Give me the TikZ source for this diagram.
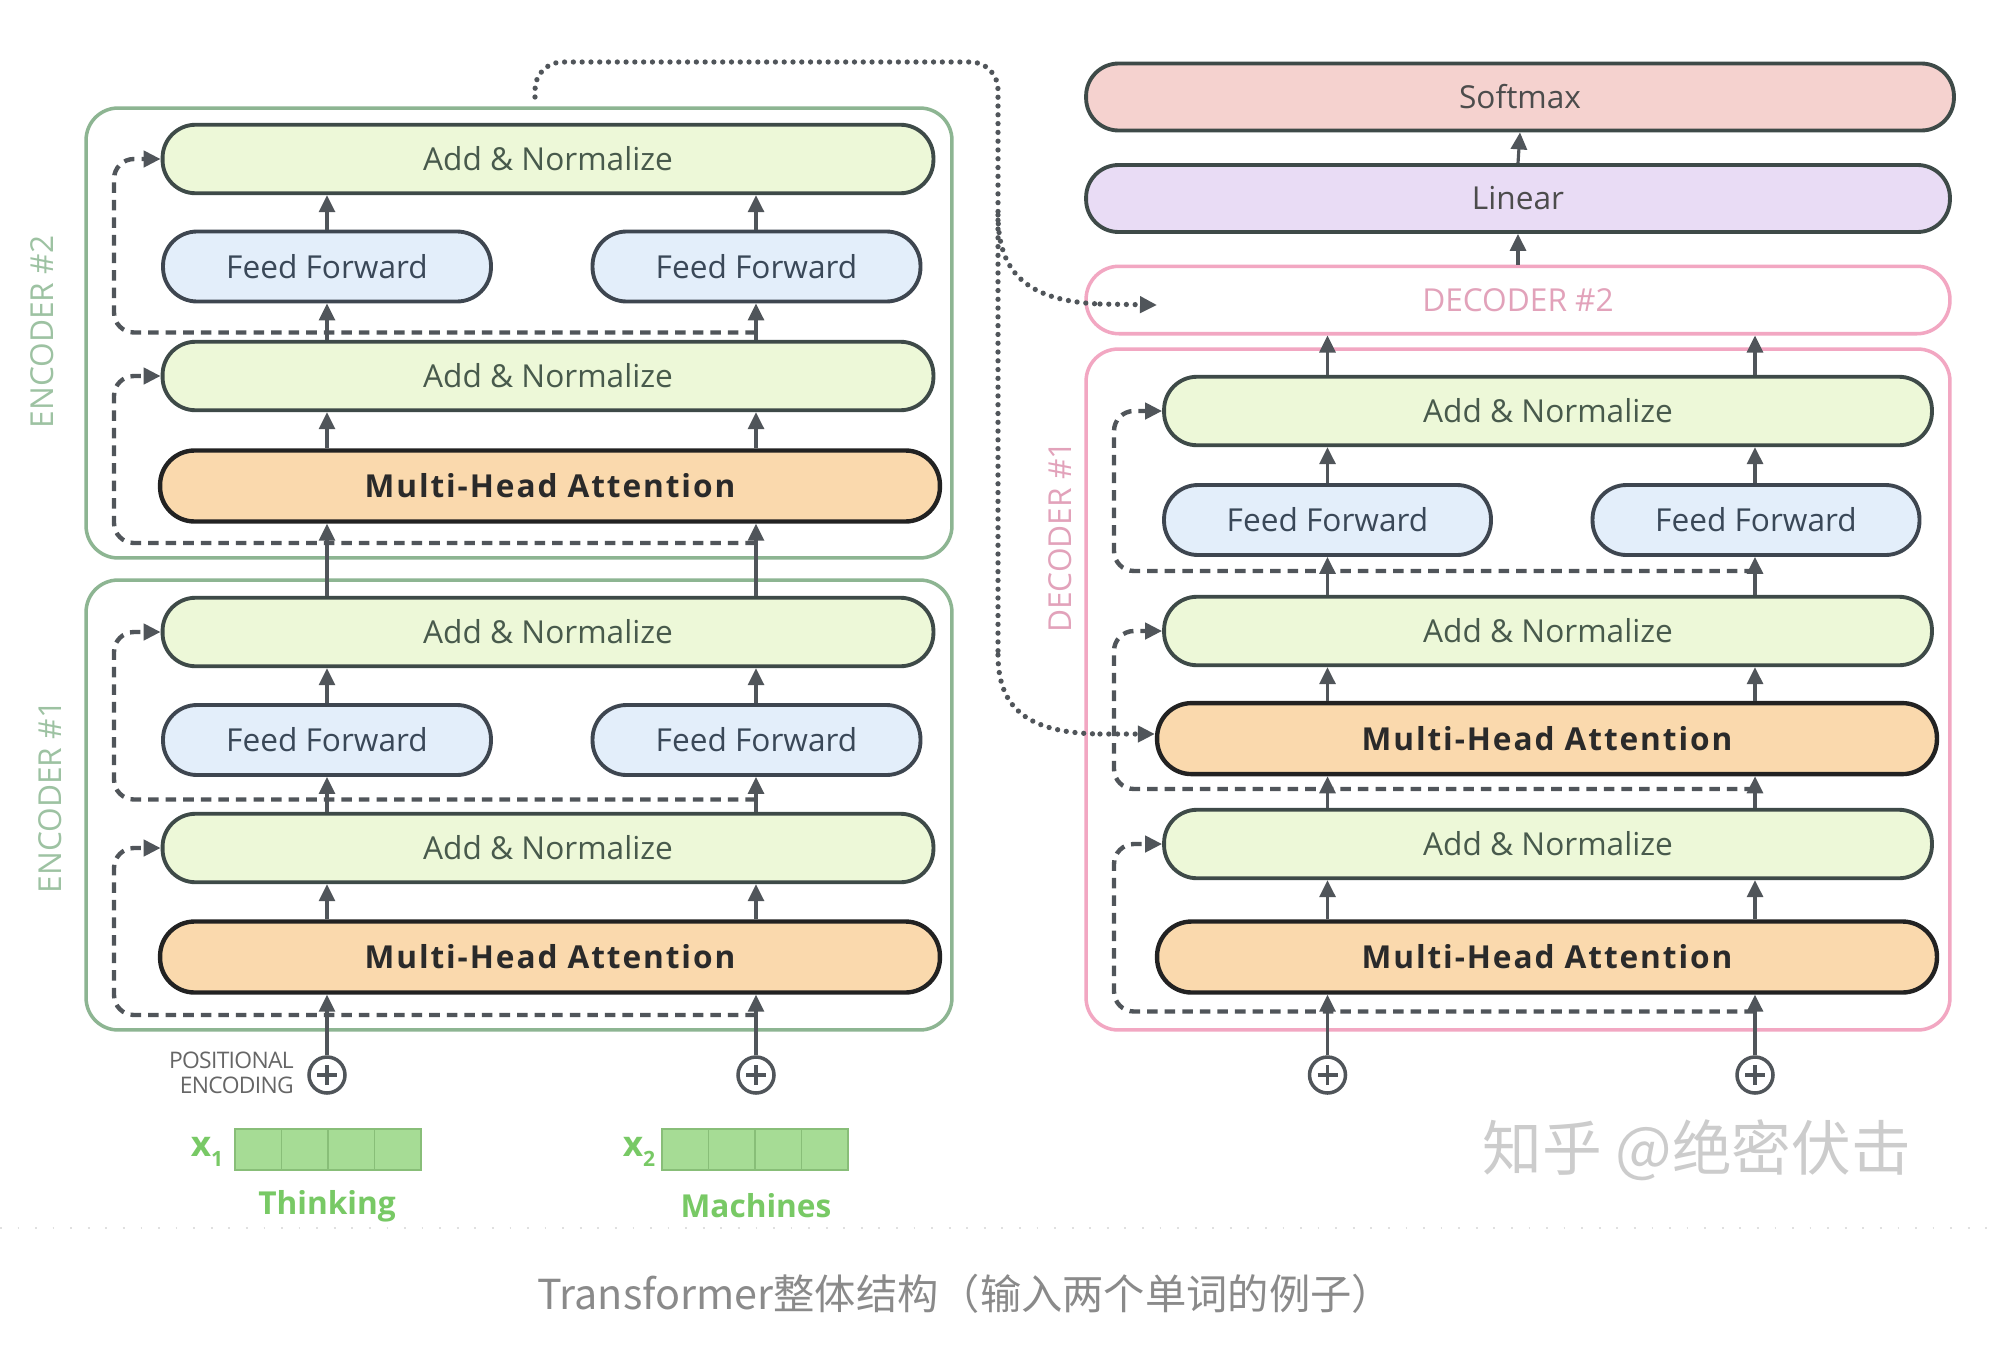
\documentclass[tikz,border=0pt]{standalone}
\usepackage{fontspec}
\setmainfont{Open Sans}
\newfontfamily\cjkfont{Noto Sans CJK SC}
\usetikzlibrary{arrows.meta}
\definecolor{anfill}{HTML}{EDF8D8}
\definecolor{anborder}{HTML}{3E4A48}
\definecolor{antext}{HTML}{485A4C}
\definecolor{fffill}{HTML}{E3EEFA}
\definecolor{ffborder}{HTML}{3E4650}
\definecolor{fftext}{HTML}{3A4858}
\definecolor{mhafill}{HTML}{FAD9AD}
\definecolor{mhaborder}{HTML}{222222}
\definecolor{mhatext}{HTML}{2A2A2A}
\definecolor{smfill}{HTML}{F5D2CF}
\definecolor{linfill}{HTML}{E9DCF5}
\definecolor{encborder}{HTML}{8DB592}
\definecolor{enclabel}{HTML}{9DC2A2}
\definecolor{decborder}{HTML}{F2A7C2}
\definecolor{declabel}{HTML}{E2A2BA}
\definecolor{arrgray}{HTML}{50555A}
\definecolor{vecfill}{HTML}{A6DC95}
\definecolor{vecborder}{HTML}{88BE78}
\definecolor{wordgreen}{HTML}{78C965}
\definecolor{capgray}{HTML}{8A8A8A}
\tikzset{
  x=0.02cm, y=-0.02cm,
  blk/.style={rectangle, inner sep=0pt, line width=2.2pt},
  addnorm/.style={blk, fill=anfill, draw=anborder, text=antext, rounded corners=0.66cm,
    minimum width=15.42cm, minimum height=1.37cm, font=\fontsize{18}{22}\selectfont},
  ffbox/.style={blk, fill=fffill, draw=ffborder, text=fftext, rounded corners=0.68cm,
    minimum width=6.56cm, minimum height=1.4cm, font=\fontsize{18}{22}\selectfont},
  mhabox/.style={blk, fill=mhafill, draw=mhaborder, text=mhatext, line width=2.5pt, rounded corners=0.69cm,
    minimum width=15.6cm, minimum height=1.42cm,
    font=\fontsize{18}{22}\selectfont\bfseries\addfontfeature{LetterSpace=6}},
  topbox/.style={blk, draw=anborder, rounded corners=0.65cm, minimum height=1.34cm,
    font=\fontsize{18}{22}\selectfont, text=black!70},
  encbox/.style={rectangle, draw=encborder, line width=2pt, rounded corners=0.64cm,
    minimum width=17.32cm, minimum height=9cm, inner sep=0pt},
  decbox/.style={rectangle, draw=decborder, line width=2pt, rounded corners=0.64cm, inner sep=0pt},
  enclab/.style={rotate=90, text=enclabel, font=\fontsize{18}{22}\selectfont},
  declab/.style={rotate=90, text=declabel, font=\fontsize{18}{22}\selectfont},
  arr/.style={draw=arrgray, line width=1.8pt, -{Triangle[length=0.34cm, width=0.32cm]}},
  res/.style={draw=arrgray, line width=2.5pt, dash pattern=on 6pt off 4pt, rounded corners=0.4cm,
    -{Triangle[length=0.34cm, width=0.32cm]}},
  dots/.style={draw=arrgray, line width=3pt, line cap=round, dash pattern=on 0pt off 5pt},
  plus/.style={circle, draw=arrgray, line width=2pt, fill=white, minimum size=0.72cm, inner sep=0pt,
    path picture={\draw[arrgray, line width=2pt]
      ([xshift=-0.2cm]path picture bounding box.center) -- ([xshift=0.2cm]path picture bounding box.center)
      ([yshift=-0.2cm]path picture bounding box.center) -- ([yshift=0.2cm]path picture bounding box.center);}},
  cell/.style={rectangle, draw=vecborder, fill=vecfill, line width=1pt, minimum width=0.93cm,
    minimum height=0.82cm, inner sep=0pt},
  xlab/.style={text=wordgreen, font=\fontsize{20}{22}\selectfont\bfseries},
  word/.style={text=wordgreen, font=\fontsize{18}{22}\selectfont\bfseries},
}
\begin{document}
\begin{tikzpicture}
\useasboundingbox[fill=white] (0,0) rectangle (1990,1352);

% ---------- column coordinates ----------
\coordinate (xL) at (327,0);
\coordinate (xR) at (756,0);
\coordinate (rL) at (114,0);
\coordinate (dxL) at (1327.5,0);
\coordinate (dxR) at (1755,0);
\coordinate (drL) at (1114,0);

% ---------- encoder boxes ----------
\node[encbox] (enc2) at (519,333) {};
\node[encbox] (enc1) at (519,805) {};
\node[enclab] (enc2lab) at (42,332) {ENCODER \#2};
\node[enclab] (enc1lab) at (50,797) {ENCODER \#1};

% encoder 2
\node[addnorm] (e2an2) at (548,159) {Add \& Normalize};
\node[ffbox] (e2ffL) at (327,266.5) {Feed Forward};
\node[ffbox] (e2ffR) at (756.5,266.5) {Feed Forward};
\node[addnorm] (e2an1) at (548,376) {Add \& Normalize};
\node[mhabox] (e2mha) at (550,486) {Multi-Head Attention};
% encoder 1
\node[addnorm] (e1an2) at (548,632) {Add \& Normalize};
\node[ffbox] (e1ffL) at (327,740) {Feed Forward};
\node[ffbox] (e1ffR) at (756.5,740) {Feed Forward};
\node[addnorm] (e1an1) at (548,848) {Add \& Normalize};
\node[mhabox] (e1mha) at (550,957) {Multi-Head Attention};

% residual row coordinates (encoder)
\coordinate (re1a) at (0,1015);
\coordinate (re1b) at (0,799.5);
\coordinate (re2a) at (0,543);
\coordinate (re2b) at (0,332.5);

% inputs
\node[plus] (pe1) at (327,1075) {};
\node[plus] (pe2) at (756,1075) {};
\node[anchor=east, align=right, text=black!60, inner sep=0pt,
  font=\fontsize{13}{14.5}\selectfont\addfontfeature{LetterSpace=-3}] (posenc) at (294,1073) {POSITIONAL\\ENCODING};

\foreach \i in {1,...,4} {
  \node[cell] (xa\i) at ({235+46.5*(\i-0.5)},1149.5) {};
  \node[cell] (xb\i) at ({662+46.5*(\i-0.5)},1149.5) {};
}
\node[xlab] (x1lab) at (207,1152) {x\raisebox{-0.3em}{\fontsize{12}{12}\selectfont 1}};
\node[xlab] (x2lab) at (639,1152) {x\raisebox{-0.3em}{\fontsize{12}{12}\selectfont 2}};
\node[word] (w1) at (327,1206) {Thinking};
\node[word] (w2) at (756,1206) {Machines};

% encoder arrows
\foreach \c in {xL,xR} {
  \draw[arr] (pe1.north -| \c) -- (e1mha.south -| \c);
  \draw[arr] (e1mha.north -| \c) -- (e1an1.south -| \c);
  \draw[arr] (e2mha.north -| \c) -- (e2an1.south -| \c);
  \draw[arr] (e1an2.north -| \c) -- (e2mha.south -| \c);
}
\draw[arr] (e1an1.north -| xL) -- (e1ffL.south);
\draw[arr] (e1an1.north -| xR) -- (e1ffR.south -| xR);
\draw[arr] (e1ffL.north) -- (e1an2.south -| xL);
\draw[arr] (e1ffR.north -| xR) -- (e1an2.south -| xR);
\draw[arr] (e2an1.north -| xL) -- (e2ffL.south);
\draw[arr] (e2an1.north -| xR) -- (e2ffR.south -| xR);
\draw[arr] (e2ffL.north) -- (e2an2.south -| xL);
\draw[arr] (e2ffR.north -| xR) -- (e2an2.south -| xR);

% encoder residuals
\draw[res] (xR |- re1a) -- (rL |- re1a) -- (rL |- e1an1.west) -- (e1an1.west);
\draw[res] (xR |- re1b) -- (rL |- re1b) -- (rL |- e1an2.west) -- (e1an2.west);
\draw[res] (xR |- re2a) -- (rL |- re2a) -- (rL |- e2an1.west) -- (e2an1.west);
\draw[res] (xR |- re2b) -- (rL |- re2b) -- (rL |- e2an2.west) -- (e2an2.west);

% ---------- decoder ----------
\node[topbox, fill=smfill, minimum width=17.36cm] (soft) at (1520,97) {Softmax};
\node[topbox, fill=linfill, minimum width=17.28cm] (lin) at (1518,198.5) {Linear};
\node[blk, draw=decborder, line width=2pt, rounded corners=0.66cm, minimum width=17.28cm,
  minimum height=1.35cm, text=declabel, font=\fontsize{18}{22}\selectfont] (dec2) at (1518,300) {DECODER \#2};
\node[decbox, minimum width=17.28cm, minimum height=13.62cm] (dec1) at (1518,689.5) {};
\node[declab] (dec1lab) at (1060,537) {DECODER \#1};

\node[addnorm, minimum width=15.36cm] (d1an3) at (1548,411) {Add \& Normalize};
\node[ffbox, minimum width=6.54cm] (d1ffL) at (1327.5,520) {Feed Forward};
\node[ffbox, minimum width=6.54cm] (d1ffR) at (1756,520) {Feed Forward};
\node[addnorm, minimum width=15.36cm] (d1an2) at (1548,631) {Add \& Normalize};
\node[mhabox] (d1mha2) at (1547,738.6) {Multi-Head Attention};
\node[addnorm, minimum width=15.36cm] (d1an1) at (1548,844) {Add \& Normalize};
\node[mhabox] (d1mha1) at (1547,957) {Multi-Head Attention};

\node[plus] (pd1) at (1327.5,1075) {};
\node[plus] (pd2) at (1755,1075) {};

\coordinate (rd1a) at (0,1011.5);
\coordinate (rd1b) at (0,789);
\coordinate (rd1c) at (0,571);

\foreach \c in {dxL,dxR} {
  \draw[arr] (pd1.north -| \c) -- (d1mha1.south -| \c);
  \draw[arr] (d1mha1.north -| \c) -- (d1an1.south -| \c);
  \draw[arr] (d1an1.north -| \c) -- (d1mha2.south -| \c);
  \draw[arr] (d1mha2.north -| \c) -- (d1an2.south -| \c);
  \draw[arr] (d1an3.north -| \c) -- (dec2.south -| \c);
}
\draw[arr] (d1an2.north -| dxL) -- (d1ffL.south);
\draw[arr] (d1an2.north -| dxR) -- (d1ffR.south -| dxR);
\draw[arr] (d1ffL.north) -- (d1an3.south -| dxL);
\draw[arr] (d1ffR.north -| dxR) -- (d1an3.south -| dxR);
\draw[arr] (dec2.north) -- (lin.south);
\draw[arr] (lin.north) -- (soft.south);

\draw[res] (dxR |- rd1a) -- (drL |- rd1a) -- (drL |- d1an1.west) -- (d1an1.west);
\draw[res] (dxR |- rd1b) -- (drL |- rd1b) -- (drL |- d1an2.west) -- (d1an2.west);
\draw[res] (dxR |- rd1c) -- (drL |- rd1c) -- (drL |- d1an3.west) -- (d1an3.west);

% ---------- encoder output to decoders (dotted) ----------
\coordinate (dtop) at (535,97);
\coordinate (dcorner) at (998,62);
\coordinate (dmid) at (998,215);
\coordinate (dlow) at (998,655);
\coordinate (dec2tip) at (1157,305);
\draw[dots, rounded corners=0.55cm] (dtop) |- (dcorner) -- (dlow);
\draw[dots] (dlow) .. controls (998,710) and (1030,733) .. (1100,734);
\draw[dots, -{Triangle[length=0.34cm, width=0.32cm]}] (1100,734) -- (d1mha2.west |- 0,734);
\draw[dots] (dmid) .. controls (998,275) and (1030,301) .. (1100,304);
\draw[dots, -{Triangle[length=0.34cm, width=0.32cm]}] (1100,304) -- (dec2tip);

% ---------- bottom ----------
\draw[black!12, line width=1pt, dash pattern=on 1pt off 9pt] (0,1228) -- (1990,1228);
\node[text=black!20, font=\fontsize{34}{36}\selectfont\cjkfont] (wm) at (1697,1150) {知乎 @绝密伏击};
\node[text=capgray, font=\fontsize{23.5}{26}\selectfont\cjkfont] (cap) at (965,1294) {Transformer整体结构（输入两个单词的例子）};
\end{tikzpicture}
\end{document}
